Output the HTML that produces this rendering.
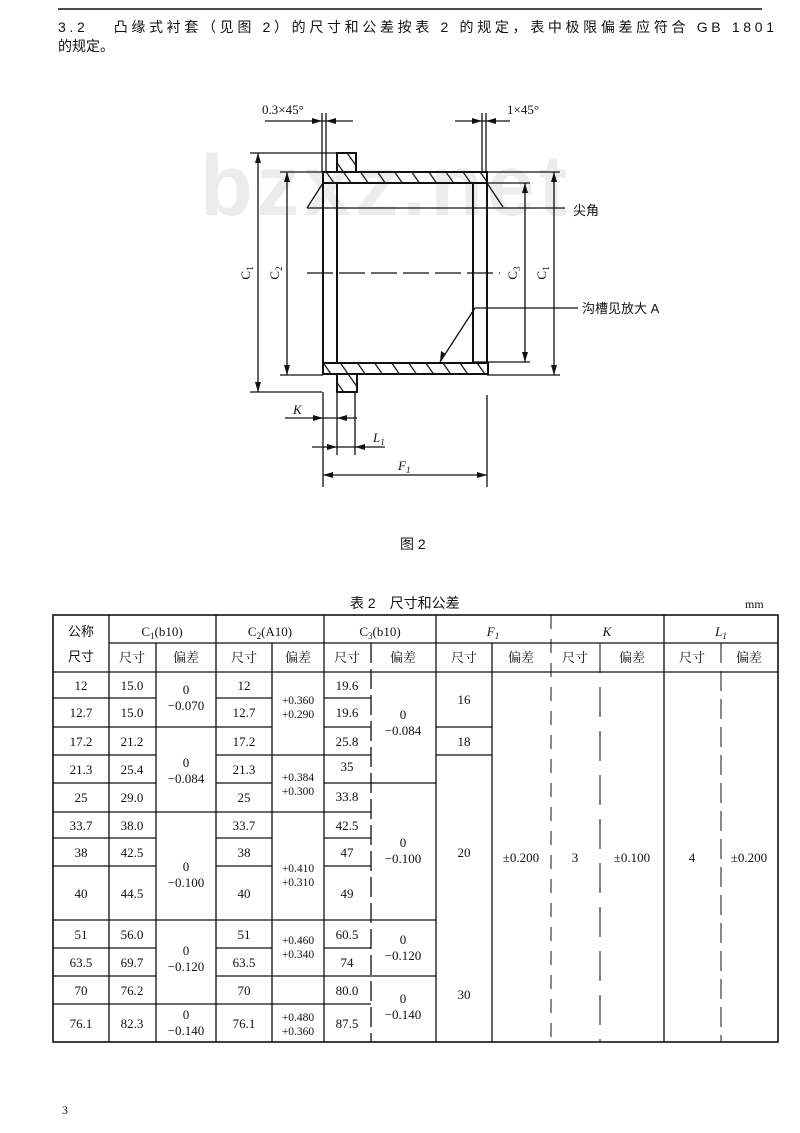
<!DOCTYPE html>
<html><head><meta charset="utf-8"><style>
html,body{margin:0;padding:0;background:#fff;}
svg{display:block}
text{font-family:"Liberation Serif","Noto Serif CJK SC","Noto Sans CJK SC",serif;fill:#111;}
.c{font-family:"Liberation Sans","Noto Sans CJK SC",sans-serif;}
</style></head><body>
<svg width="800" height="1133" viewBox="0 0 800 1133" xmlns="http://www.w3.org/2000/svg">
<defs>
<pattern id="h" width="14" height="14" patternUnits="userSpaceOnUse" patternTransform="rotate(-35)">
<line x1="0" y1="0" x2="0" y2="14" stroke="#111" stroke-width="2.5"/></pattern>
</defs>
<line x1="58" y1="9" x2="762" y2="9" stroke="#111" stroke-width="1.5"/>
<text x="58" y="32" font-size="14" class="c" textLength="716" lengthAdjust="spacing">3.2　 凸缘式衬套（见图 2）的尺寸和公差按表 2 的规定，表中极限偏差应符合 GB 1801</text>
<text x="58" y="51" font-size="14" class="c">的规定。</text>

<text x="200" y="215" font-size="86" font-weight="bold" class="c" style="fill:#ececec" letter-spacing="4">bzxz.net</text>

<g stroke="#111" fill="none" stroke-width="1.3">
<rect x="323" y="172" width="164" height="11" fill="url(#h)" stroke-width="2"/>
<rect x="337" y="153" width="19" height="19" fill="url(#h)" stroke-width="2"/>
<rect x="323" y="363" width="165" height="11" fill="url(#h)" stroke-width="2"/>
<rect x="337" y="374" width="20" height="18" fill="url(#h)" stroke-width="2"/>
<line x1="323" y1="183" x2="323" y2="363" stroke-width="2"/>
<line x1="337" y1="183" x2="337" y2="363" stroke-width="2"/>
<line x1="473" y1="183" x2="473" y2="363" stroke-width="2"/>
<line x1="487" y1="183" x2="487" y2="363" stroke-width="2"/>
<line x1="307" y1="273" x2="500" y2="273" stroke-dasharray="26,6"/>
<line x1="323" y1="183" x2="307" y2="208"/>
<line x1="487" y1="183" x2="503" y2="207"/>
<line x1="307" y1="208" x2="565" y2="208"/>
<line x1="250" y1="153" x2="337" y2="153"/>
<line x1="250" y1="392" x2="322" y2="392"/>
<line x1="258" y1="153" x2="258" y2="392"/>
<line x1="280" y1="172" x2="323" y2="172"/>
<line x1="280" y1="375" x2="323" y2="375"/>
<line x1="287" y1="172" x2="287" y2="375"/>
<line x1="473" y1="183" x2="530" y2="183"/>
<line x1="473" y1="362" x2="530" y2="362"/>
<line x1="525" y1="183" x2="525" y2="362"/>
<line x1="487" y1="172" x2="560" y2="172"/>
<line x1="487" y1="375" x2="560" y2="375"/>
<line x1="554" y1="172" x2="554" y2="375"/>
<line x1="475" y1="308" x2="578" y2="308"/>
<line x1="475" y1="308" x2="440" y2="362"/>
<line x1="322" y1="113" x2="322" y2="172"/>
<line x1="326" y1="113" x2="326" y2="172"/>
<line x1="265" y1="121" x2="353" y2="121"/>
<line x1="482" y1="113" x2="482" y2="172"/>
<line x1="486" y1="113" x2="486" y2="172"/>
<line x1="455" y1="121" x2="510" y2="121"/>
<line x1="323" y1="392" x2="323" y2="487"/>
<line x1="337" y1="392" x2="337" y2="455"/>
<line x1="355" y1="392" x2="355" y2="455"/>
<line x1="285" y1="418" x2="357" y2="418"/>
<line x1="312" y1="447" x2="385" y2="447"/>
<line x1="487" y1="395" x2="487" y2="487"/>
<line x1="323" y1="475" x2="487" y2="475"/>
</g>
<g fill="#111">
<polygon points="258,153 255,163 261,163"/><polygon points="258,392 255,382 261,382"/>
<polygon points="287,172 284,182 290,182"/><polygon points="287,375 284,365 290,365"/>
<polygon points="525,183 522,193 528,193"/><polygon points="525,362 522,352 528,352"/>
<polygon points="554,172 551,182 557,182"/><polygon points="554,375 551,365 557,365"/>
<polygon points="323,475 333,472 333,478"/><polygon points="487,475 477,472 477,478"/>
<polygon points="323,418 313,415 313,421"/><polygon points="337,418 347,415 347,421"/>
<polygon points="337,447 327,444 327,450"/><polygon points="355,447 365,444 365,450"/>
<polygon points="322,121 312,118 312,124"/><polygon points="326,121 336,118 336,124"/>
<polygon points="482,121 472,118 472,124"/><polygon points="486,121 496,118 496,124"/>
<polygon points="440,362 441,351 446,354"/>
</g>
<g font-size="13">
<text x="262" y="114">0.3×45°</text>
<text x="507" y="114">1×45°</text>
<text x="573" y="215" class="c">尖角</text>
<text x="582" y="313" class="c">沟槽见放大 A</text>
<text x="293" y="414" font-style="italic">K</text>
<text x="373" y="442" font-style="italic">L<tspan font-size="9" dy="3">1</tspan></text>
<text x="398" y="470" font-style="italic">F<tspan font-size="9" dy="3">1</tspan></text>
<text transform="translate(250,273) rotate(-90)" text-anchor="middle">C<tspan font-size="9" dy="3">1</tspan></text>
<text transform="translate(279,273) rotate(-90)" text-anchor="middle">C<tspan font-size="9" dy="3">2</tspan></text>
<text transform="translate(517,273) rotate(-90)" text-anchor="middle">C<tspan font-size="9" dy="3">3</tspan></text>
<text transform="translate(546,273) rotate(-90)" text-anchor="middle">C<tspan font-size="9" dy="3">1</tspan></text>
</g>
<text x="400" y="549" font-size="14" class="c">图 2</text>

<text x="350" y="608" font-size="14" class="c">表 2　尺寸和公差</text>
<text x="745" y="608" font-size="12">mm</text>
<g stroke="#111" stroke-width="1.3" fill="none">
<rect x="53" y="615" width="725" height="427" stroke-width="1.6"/>
<line x1="109" y1="643" x2="778" y2="643"/>
<line x1="53" y1="672" x2="778" y2="672"/>
<line x1="109" y1="615" x2="109" y2="1042"/>
<line x1="156" y1="643" x2="156" y2="1042"/>
<line x1="216" y1="615" x2="216" y2="1042"/>
<line x1="272" y1="643" x2="272" y2="1042"/>
<line x1="324" y1="615" x2="324" y2="1042"/>
<line x1="371" y1="643" x2="371" y2="1042" stroke-dasharray="20,6"/>
<line x1="436" y1="615" x2="436" y2="1042"/>
<line x1="492" y1="643" x2="492" y2="1042"/>
<line x1="551" y1="615" x2="551" y2="1042" stroke-dasharray="14,10" stroke-width="1"/>
<line x1="600" y1="643" x2="600" y2="1042" stroke-dasharray="30,14" stroke-width="1"/>
<line x1="664" y1="615" x2="664" y2="1042"/>
<line x1="721" y1="643" x2="721" y2="1042" stroke-dasharray="20,8" stroke-width="1"/>
<path d="M53 698H156 M53 727H156 M53 755H156 M53 783H156 M53 812H156 M53 838H156 M53 866H156 M53 920H156 M53 948H156 M53 976H156 M53 1004H156"/>
<path d="M156 727H216 M156 812H216 M156 920H216 M156 1004H216"/>
<path d="M216 698H272 M216 727H272 M216 755H272 M216 783H272 M216 812H272 M216 838H272 M216 866H272 M216 920H272 M216 948H272 M216 976H272 M216 1004H272"/>
<path d="M272 755H324 M272 812H324 M272 920H324 M272 976H324 M272 1004H324"/>
<path d="M324 698H371 M324 727H371 M324 755H371 M324 783H371 M324 812H371 M324 838H371 M324 866H371 M324 920H371 M324 948H371 M324 976H371 M324 1004H371"/>
<path d="M371 783H436 M371 920H436 M371 976H436"/>
<path d="M436 727H492 M436 755H492"/>
</g>
<g font-size="13" text-anchor="middle">
<text x="81" y="636" class="c">公称</text><text x="81" y="661" class="c">尺寸</text>
<text x="162" y="636">C<tspan font-size="9" dy="3">1</tspan><tspan dy="-3">(b10)</tspan></text>
<text x="270" y="636">C<tspan font-size="9" dy="3">2</tspan><tspan dy="-3">(A10)</tspan></text>
<text x="380" y="636">C<tspan font-size="9" dy="3">3</tspan><tspan dy="-3">(b10)</tspan></text>
<text x="493" y="636" font-style="italic">F<tspan font-size="9" dy="3">1</tspan></text>
<text x="607" y="636" font-style="italic">K</text>
<text x="721" y="636" font-style="italic">L<tspan font-size="9" dy="3">1</tspan></text>
<g class="c">
<text x="132" y="662">尺寸</text><text x="186" y="662">偏差</text>
<text x="244" y="662">尺寸</text><text x="298" y="662">偏差</text>
<text x="347" y="662">尺寸</text><text x="403" y="662">偏差</text>
<text x="464" y="662">尺寸</text><text x="521" y="662">偏差</text>
<text x="575" y="662">尺寸</text><text x="632" y="662">偏差</text>
<text x="692" y="662">尺寸</text><text x="749" y="662">偏差</text>
</g>
<g>
<text x="81" y="690">12</text><text x="132" y="690">15.0</text><text x="244" y="690">12</text><text x="347" y="690">19.6</text>
<text x="81" y="717">12.7</text><text x="132" y="717">15.0</text><text x="244" y="717">12.7</text><text x="347" y="717">19.6</text>
<text x="81" y="746">17.2</text><text x="132" y="746">21.2</text><text x="244" y="746">17.2</text><text x="347" y="746">25.8</text>
<text x="81" y="774">21.3</text><text x="132" y="774">25.4</text><text x="244" y="774">21.3</text><text x="347" y="771">35</text>
<text x="81" y="802">25</text><text x="132" y="802">29.0</text><text x="244" y="802">25</text><text x="347" y="801">33.8</text>
<text x="81" y="830">33.7</text><text x="132" y="830">38.0</text><text x="244" y="830">33.7</text><text x="347" y="830">42.5</text>
<text x="81" y="857">38</text><text x="132" y="857">42.5</text><text x="244" y="857">38</text><text x="347" y="857">47</text>
<text x="81" y="898">40</text><text x="132" y="898">44.5</text><text x="244" y="898">40</text><text x="347" y="898">49</text>
<text x="81" y="939">51</text><text x="132" y="939">56.0</text><text x="244" y="939">51</text><text x="347" y="939">60.5</text>
<text x="81" y="967">63.5</text><text x="132" y="967">69.7</text><text x="244" y="967">63.5</text><text x="347" y="967">74</text>
<text x="81" y="995">70</text><text x="132" y="995">76.2</text><text x="244" y="995">70</text><text x="347" y="995">80.0</text>
<text x="81" y="1028">76.1</text><text x="132" y="1028">82.3</text><text x="244" y="1028">76.1</text><text x="347" y="1028">87.5</text>
</g>
<text x="186" y="694">0</text><text x="186" y="710">−0.070</text>
<text x="186" y="767">0</text><text x="186" y="783">−0.084</text>
<text x="186" y="871">0</text><text x="186" y="887">−0.100</text>
<text x="186" y="955">0</text><text x="186" y="971">−0.120</text>
<text x="186" y="1019">0</text><text x="186" y="1035">−0.140</text>
<g font-size="11.5">
<text x="298" y="704">+0.360</text><text x="298" y="718">+0.290</text>
<text x="298" y="781">+0.384</text><text x="298" y="795">+0.300</text>
<text x="298" y="872">+0.410</text><text x="298" y="886">+0.310</text>
<text x="298" y="944">+0.460</text><text x="298" y="958">+0.340</text>
<text x="298" y="1021">+0.480</text><text x="298" y="1035">+0.360</text>
</g>
<text x="403" y="719">0</text><text x="403" y="735">−0.084</text>
<text x="403" y="847">0</text><text x="403" y="863">−0.100</text>
<text x="403" y="944">0</text><text x="403" y="960">−0.120</text>
<text x="403" y="1003">0</text><text x="403" y="1019">−0.140</text>
<text x="464" y="704">16</text><text x="464" y="746">18</text>
<text x="464" y="857">20</text><text x="464" y="999">30</text>
<text x="521" y="862">±0.200</text><text x="575" y="862">3</text><text x="632" y="862">±0.100</text>
<text x="692" y="862">4</text><text x="749" y="862">±0.200</text>
</g>
<text x="62" y="1114" font-size="12">3</text>
</svg>
</body></html>
